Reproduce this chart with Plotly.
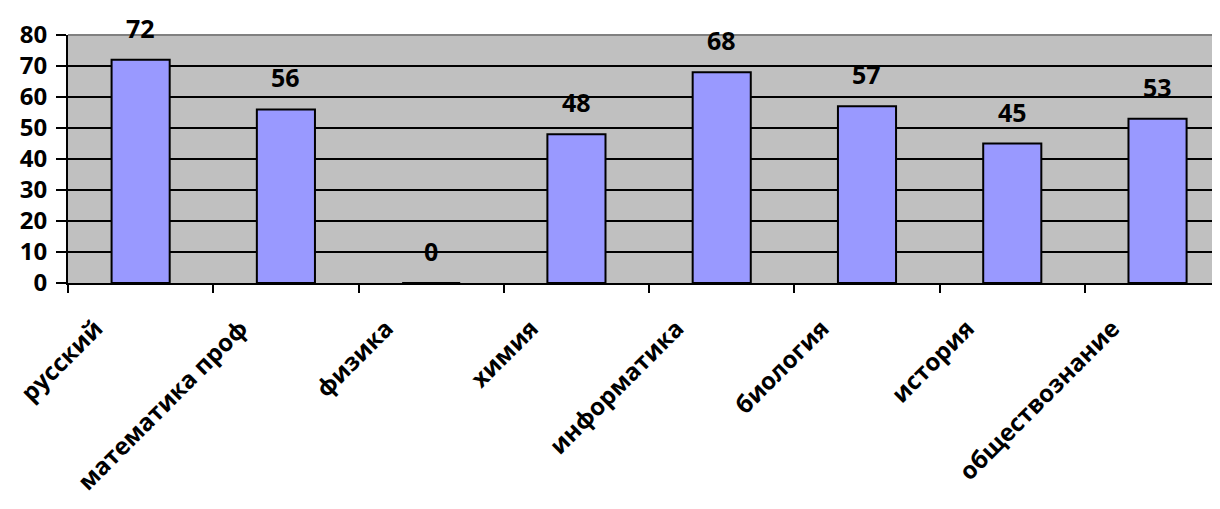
import plotly.graph_objects as go

categories = ["русский", "математика проф", "физика", "химия",
              "информатика", "биология", "история", "обществознание"]
values = [72, 56, 0, 48, 68, 57, 45, 53]
y_ticks = [0, 10, 20, 30, 40, 50, 60, 70, 80]

FONT = "Open Sans"
fig = go.Figure()
fig.add_trace(go.Bar(
    x=categories, y=values, width=0.4,
    marker=dict(color="#9999FF", line=dict(color="#000000", width=2)),
    hoverinfo="x+y",
))

for c, v in zip(categories, values):
    fig.add_annotation(x=c, y=v, text=f"<b>{v}</b>", showarrow=False,
                       yanchor="bottom", yshift=13,
                       font=dict(family=FONT, size=25, color="#000000"))

# top border of plot area (gray)
fig.add_shape(type="line", xref="paper", yref="paper", x0=0, x1=1, y0=1, y1=1,
              line=dict(color="#808080", width=2), layer="below")

fig.update_layout(
    width=1212, height=501,
    margin=dict(l=60, r=0, t=27, b=226),
    paper_bgcolor="#FFFFFF", plot_bgcolor="#C0C0C0",
    showlegend=False, bargap=0.6,
    font=dict(family=FONT, size=24, color="#000000"),
)
fig.update_xaxes(
    range=[-0.5, 7.43], type="category", automargin=False,
    tickson="boundaries", ticks="outside", ticklen=8, tickwidth=2, tickcolor="#000000",
    tickangle=-45, showline=True, linecolor="#000000", linewidth=2,
    ticklabelstandoff=20, ticklabelshift=-45,
    tickfont=dict(family=FONT, size=24, color="#000000", weight="bold"),
    showgrid=False,
)
fig.update_yaxes(
    range=[0, 80], tickvals=y_ticks, ticks="outside", ticklen=10, tickwidth=2,
    tickcolor="#000000", showline=True, linecolor="#000000", linewidth=2,
    gridcolor="#000000", gridwidth=2, zeroline=False, automargin=False,
    ticklabelstandoff=4,
    tickfont=dict(family=FONT, size=24, color="#000000", weight="bold"),
)
fig.write_html("out.html")
